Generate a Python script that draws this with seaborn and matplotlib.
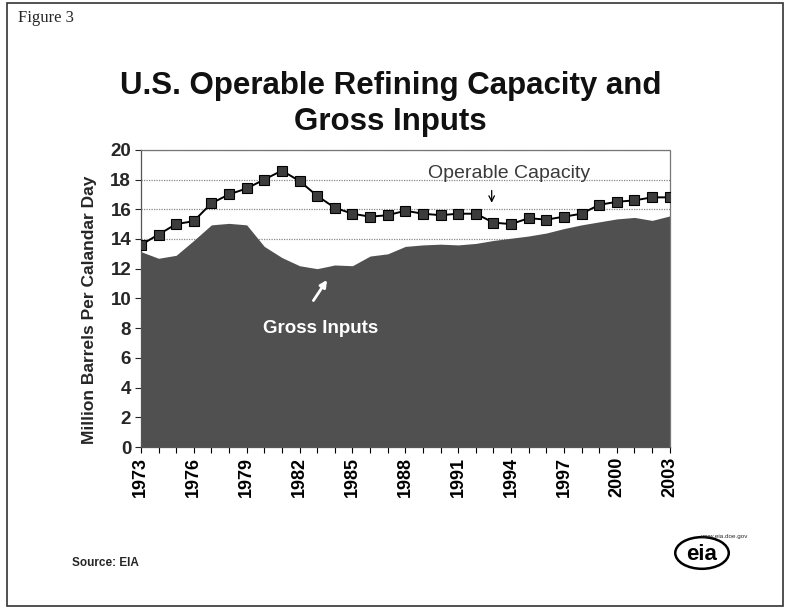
import matplotlib
matplotlib.use('Agg')
import matplotlib.pyplot as plt
import matplotlib.patches as mpatches
import pandas as pd
import seaborn as sns

# Data (million barrels per calendar day)
years = list(range(1973, 2004))
capacity = [13.6, 14.3, 15.0, 15.2, 16.4, 17.0, 17.4, 18.0, 18.6, 17.9,
            16.9, 16.1, 15.7, 15.5, 15.6, 15.9, 15.7, 15.6, 15.7, 15.7,
            15.1, 15.0, 15.4, 15.3, 15.5, 15.7, 16.3, 16.5, 16.6, 16.8, 16.8]
gross_inputs = [13.15, 12.7, 12.9, 13.9, 14.95, 15.05, 14.95, 13.5, 12.75, 12.2,
                12.0, 12.25, 12.2, 12.85, 13.0, 13.5, 13.6, 13.65, 13.6, 13.7,
                13.9, 14.05, 14.2, 14.4, 14.7, 14.95, 15.15, 15.35, 15.45, 15.25, 15.55]
year_ticks = list(range(1973, 2004, 3))
y_ticks = list(range(0, 21, 2))

df = pd.DataFrame({'year': years, 'capacity': capacity, 'gross': gross_inputs})

sns.set_style('white')
plt.rcParams['font.family'] = ['Liberation Sans', 'DejaVu Sans']

fig = plt.figure(figsize=(7.87, 6.09), dpi=100)
ax = fig.add_axes([0.179, 0.266, 0.672, 0.488])

# grid lines behind everything
for v in y_ticks[1:]:
    ax.axhline(v, color='#888888', lw=0.9, ls=(0, (1, 1)), zorder=0)

ax.fill_between(df['year'], 0, df['gross'], color='#505050', lw=0, zorder=1)
sns.lineplot(data=df, x='year', y='capacity', ax=ax, color='black', lw=1.4,
             marker='s', markersize=7.5, markerfacecolor='#3c3c3c',
             markeredgecolor='black', markeredgewidth=0.8, zorder=3)

ax.set_xlim(1973, 2003)
ax.set_ylim(0, 20)
ax.set_xticks(year_ticks)
ax.set_xticks(years, minor=True)
ax.set_yticks(y_ticks)
ax.set_xticklabels([str(y) for y in year_ticks], rotation=90, fontsize=13, fontweight='bold')
ax.set_yticklabels([str(v) for v in y_ticks], fontsize=13.5, fontweight='bold')
ax.tick_params(axis='x', which='both', direction='out', length=4, width=0.8,
               bottom=True, colors='black', pad=3)
ax.tick_params(axis='y', direction='out', length=4, width=0.8, left=True, pad=3)
ax.set_xlabel('')
ax.set_ylabel('Million Barrels Per Calandar Day', fontsize=12.5, fontweight='bold')
ax.yaxis.set_label_coords(-0.083, 0.46)

for side in ['top', 'right']:
    ax.spines[side].set_color('#777777')
    ax.spines[side].set_linestyle((0, (1, 1)))
    ax.spines[side].set_linewidth(0.9)
for side in ['left', 'bottom']:
    ax.spines[side].set_color('#555555')
    ax.spines[side].set_linewidth(0.9)

# annotations
ax.text(1993.9, 18.4, 'Operable Capacity', fontsize=14, color='#3a3a3a',
        ha='center', va='center')
ax.annotate('', xy=(1992.9, 16.25), xytext=(1992.9, 17.45),
            arrowprops=dict(arrowstyle='->', color='black', lw=0.9))
ax.text(1983.2, 7.95, 'Gross Inputs', fontsize=13.5, fontweight='bold', color='white',
        ha='center', va='center', zorder=5)
ax.annotate('', xy=(1983.65, 11.4), xytext=(1982.7, 9.7),
            arrowprops=dict(arrowstyle='-|>', color='white', lw=2, mutation_scale=10),
            zorder=5)

# title and page text
fig.text(0.496, 0.829, 'U.S. Operable Refining Capacity and\nGross Inputs',
         ha='center', va='center', fontsize=22.5, fontweight='bold',
         linespacing=1.25, color='#111111')
fig.text(0.023, 0.97, 'Figure 3', ha='left', va='center', fontsize=12,
         family=['Liberation Serif', 'DejaVu Serif'])
fig.text(0.092, 0.075, 'Source: EIA', ha='left', va='center', fontsize=8.5,
         fontweight='bold')

# EIA logo approximation
fig.text(0.892, 0.09, 'eia', ha='center', va='center', fontsize=16,
         fontweight='bold', color='black')
fig.patches.append(mpatches.Ellipse((0.892, 0.092), 0.068, 0.052, fill=False,
                                    lw=1.8, color='black', transform=fig.transFigure))
fig.text(0.89, 0.119, 'www.eia.doe.gov', ha='left', va='center', fontsize=4.5)

# page border
fig.patches.append(mpatches.Rectangle((0.009, 0.005), 0.986, 0.99, fill=False,
                                      lw=1.2, color='#333333', transform=fig.transFigure))

fig.savefig('out.png', dpi=100)
